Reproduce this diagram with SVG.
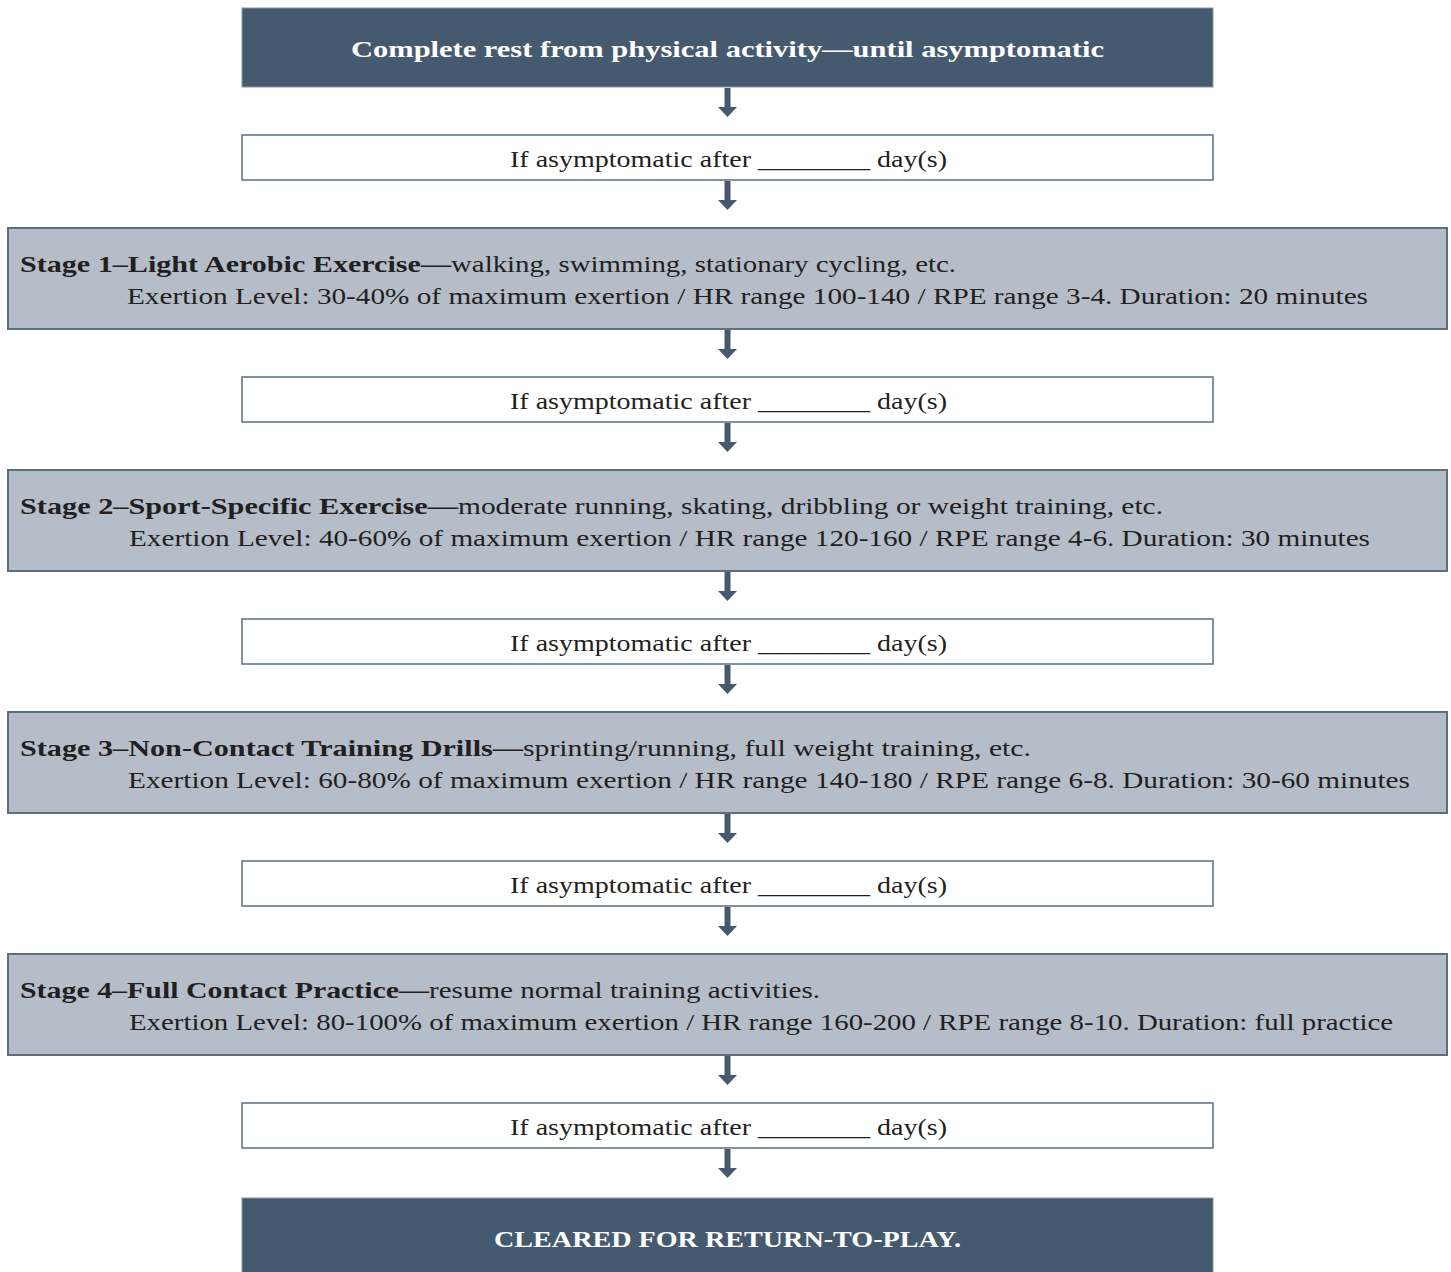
<svg xmlns="http://www.w3.org/2000/svg" width="1451" height="1272" viewBox="0 0 1451 1272">
<style>
.dark{fill:#455a6e;stroke:#8a9aa8;stroke-width:1}
.stage{fill:#b5bdc9;stroke:#5d6e7e;stroke-width:2}
.cond{fill:#ffffff;stroke:#5d6e7e;stroke-width:1.5}
.t{font-family:"Liberation Serif","Times New Roman",serif;font-size:24px;fill:#231f20}
.b{font-weight:bold}
.w{fill:#ffffff;font-weight:bold}
.c{text-anchor:middle}
.conn line{stroke:#455a6e;stroke-width:6;marker-end:url(#ah)}
</style>
<defs>
<marker id="ah" markerUnits="userSpaceOnUse" markerWidth="10" markerHeight="19" refX="0" refY="9.5" orient="auto" viewBox="0 0 10 19">
<path d="M0,0 L10,9.5 L0,19 Z" fill="#455a6e"/>
</marker>
</defs>
<rect width="1451" height="1272" fill="#ffffff"/>

<g id="rest">
<rect class="dark" x="242" y="8" width="971" height="79"/>
<text class="t w c" x="727.5" y="57" textLength="753" lengthAdjust="spacingAndGlyphs">Complete rest from physical activity—until asymptomatic</text>
</g>

<g id="cond0">
<rect class="cond" x="242" y="135" width="971" height="45"/>
<text class="t" x="510" y="167" textLength="437" lengthAdjust="spacingAndGlyphs">If asymptomatic after ________ day(s)</text>
</g>

<g id="stage1">
<rect class="stage" x="8" y="228" width="1439" height="101"/>
<text class="t b" x="20" y="272" textLength="431" lengthAdjust="spacingAndGlyphs">Stage 1–Light Aerobic Exercise—</text>
<text class="t" x="451" y="272" textLength="505" lengthAdjust="spacingAndGlyphs">walking, swimming, stationary cycling, etc.</text>
<text class="t" x="127" y="304" textLength="1241" lengthAdjust="spacingAndGlyphs">Exertion Level: 30-40% of maximum exertion / HR range 100-140 / RPE range 3-4. Duration: 20 minutes</text>
</g>

<g id="cond1">
<rect class="cond" x="242" y="377" width="971" height="45"/>
<text class="t" x="510" y="409" textLength="437" lengthAdjust="spacingAndGlyphs">If asymptomatic after ________ day(s)</text>
</g>

<g id="stage2">
<rect class="stage" x="8" y="470" width="1439" height="101"/>
<text class="t b" x="20" y="514" textLength="438" lengthAdjust="spacingAndGlyphs">Stage 2–Sport-Specific Exercise—</text>
<text class="t" x="458" y="514" textLength="705" lengthAdjust="spacingAndGlyphs">moderate running, skating, dribbling or weight training, etc.</text>
<text class="t" x="129" y="546" textLength="1241" lengthAdjust="spacingAndGlyphs">Exertion Level: 40-60% of maximum exertion / HR range 120-160 / RPE range 4-6. Duration: 30 minutes</text>
</g>

<g id="cond2">
<rect class="cond" x="242" y="619" width="971" height="45"/>
<text class="t" x="510" y="651" textLength="437" lengthAdjust="spacingAndGlyphs">If asymptomatic after ________ day(s)</text>
</g>

<g id="stage3">
<rect class="stage" x="8" y="712" width="1439" height="101"/>
<text class="t b" x="20" y="756" textLength="503" lengthAdjust="spacingAndGlyphs">Stage 3–Non-Contact Training Drills—</text>
<text class="t" x="523" y="756" textLength="508" lengthAdjust="spacingAndGlyphs">sprinting/running, full weight training, etc.</text>
<text class="t" x="128" y="788" textLength="1282" lengthAdjust="spacingAndGlyphs">Exertion Level: 60-80% of maximum exertion / HR range 140-180 / RPE range 6-8. Duration: 30-60 minutes</text>
</g>

<g id="cond3">
<rect class="cond" x="242" y="861" width="971" height="45"/>
<text class="t" x="510" y="893" textLength="437" lengthAdjust="spacingAndGlyphs">If asymptomatic after ________ day(s)</text>
</g>

<g id="stage4">
<rect class="stage" x="8" y="954" width="1439" height="101"/>
<text class="t b" x="20" y="998" textLength="409" lengthAdjust="spacingAndGlyphs">Stage 4–Full Contact Practice—</text>
<text class="t" x="429" y="998" textLength="391" lengthAdjust="spacingAndGlyphs">resume normal training activities.</text>
<text class="t" x="129" y="1030" textLength="1264" lengthAdjust="spacingAndGlyphs">Exertion Level: 80-100% of maximum exertion / HR range 160-200 / RPE range 8-10. Duration: full practice</text>
</g>

<g id="cond4">
<rect class="cond" x="242" y="1103" width="971" height="45"/>
<text class="t" x="510" y="1135" textLength="437" lengthAdjust="spacingAndGlyphs">If asymptomatic after ________ day(s)</text>
</g>

<g id="cleared">
<rect class="dark" x="242" y="1198" width="971" height="80"/>
<text class="t w c" x="727.5" y="1247" textLength="467" lengthAdjust="spacingAndGlyphs">CLEARED FOR RETURN-TO-PLAY.</text>
</g>

<g id="connectors" class="conn">
<line x1="727.5" y1="88" x2="727.5" y2="107"/>
<line x1="727.5" y1="181" x2="727.5" y2="200"/>
<line x1="727.5" y1="330" x2="727.5" y2="349"/>
<line x1="727.5" y1="423" x2="727.5" y2="442"/>
<line x1="727.5" y1="572" x2="727.5" y2="591"/>
<line x1="727.5" y1="665" x2="727.5" y2="684"/>
<line x1="727.5" y1="814" x2="727.5" y2="833"/>
<line x1="727.5" y1="907" x2="727.5" y2="926"/>
<line x1="727.5" y1="1056" x2="727.5" y2="1075"/>
<line x1="727.5" y1="1149" x2="727.5" y2="1168"/>
</g>
</svg>
